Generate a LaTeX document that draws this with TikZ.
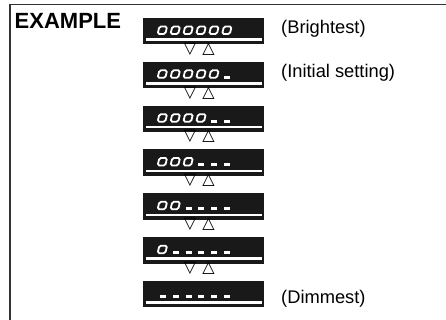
\documentclass[tikz,border=0pt]{standalone}
\usepackage{fontspec}
\setmainfont{Liberation Sans}
\newfontfamily\symfont{DejaVu Sans}
\begin{document}
\begin{tikzpicture}[x=1pt,y=-1pt,
  frame/.style={line width=1.3pt, black!80},
  dispbox/.style={fill=black!90, draw=none, minimum width=121pt, minimum height=26.5pt, inner sep=0pt},
  lbl/.style={anchor=base west, inner sep=0pt, font=\fontsize{18.3}{21}\selectfont},
  ttl/.style={anchor=base west, inner sep=0pt, font=\fontsize{22}{24}\selectfont\bfseries},
  tri/.style={anchor=base, inner sep=0pt, font=\symfont\fontsize{16}{18}\selectfont},
  seg/.style={white, line width=1.8pt, rounded corners=1.6pt},
  dsh/.style={fill=white},
  uline/.style={white, line width=2.5pt}]
\useasboundingbox (0,0) rectangle (446,320);
\draw[frame] (10,320) -- (10,4.7) -- (446,4.7);
\node[ttl] (title) at (14.5,29) {EXAMPLE};
\foreach \k/\n in {1/6,2/5,3/4,4/3,5/2,6/1,7/0}{
  \pgfmathsetmacro{\t}{18+43.83*(\k-1)}
  \node[dispbox] (d\k) at (203.5,\t+13.2) {};
  \draw[uline] (146,\t+21.5) -- (262,\t+21.5);
  \foreach \i in {0,...,5}{
    \pgfmathsetmacro{\xo}{156.7+12.9*\i}
    \ifnum\i<\n
      \draw[seg] (\xo+0.9,\t+16.0) -- (\xo+8.6,\t+16.0) -- (\xo+10.4,\t+8.5) -- (\xo+2.7,\t+8.5) -- cycle;
    \else
      \fill[dsh] (\xo+3,\t+14) rectangle (\xo+9,\t+16.9);
    \fi
  }
}
\foreach \k in {1,...,6}{
  \pgfmathsetmacro{\t}{18+43.83*(\k-1)}
  \node[tri] (dn\k) at (190,\t+35.2) {▽};
  \node[tri] (up\k) at (208.5,\t+35.2) {△};
}
\node[lbl] (bright) at (281,33.3) {(Brightest)};
\node[lbl] (init) at (281,77.3) {(Initial setting)};
\node[lbl] (dim) at (281,303) {(Dimmest)};
\end{tikzpicture}
\end{document}
